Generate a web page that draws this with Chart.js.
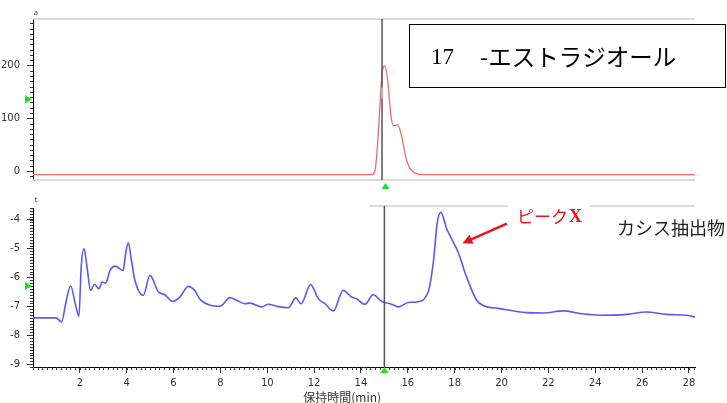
<!DOCTYPE html>
<html>
<head>
<meta charset="utf-8">
<script src="https://cdn.jsdelivr.net/npm/chart.js@4.4.1/dist/chart.umd.min.js"></script>
<style>
    html, body { margin: 0; padding: 0; background: #fff; overflow: hidden; }
    #wrap { position: relative; width: 727px; height: 403px; }
    canvas { position: absolute; left: 0; }
    #topChart { top: 0; }
    #bottomChart { top: 195px; }
</style>
</head>
<body>
<div id="wrap">
    <canvas id="topChart" width="727" height="195"></canvas>
    <canvas id="bottomChart" width="727" height="208"></canvas>
</div>
<script>
const redTime   = [0, 14.45, 14.6, 14.74, 14.84, 14.92, 15.02, 15.14, 15.27, 15.38, 15.47, 15.56, 15.74, 15.91, 16.09, 16.38, 16.59, 28.26];
const redSignal = [-7, -7, 1, 71, 147, 191, 199, 172, 109, 86, 86, 88, 65, 27, 5, -5, -7, -7];

const blueTime = [0, 0.98, 1.22, 1.42, 1.61, 1.8, 1.96, 2.06, 2.18, 2.3,
    2.46, 2.62, 2.82, 2.96, 3.1, 3.29, 3.5, 3.85, 3.95, 4.07,
    4.2, 4.35, 4.71, 4.99, 5.35, 5.63, 5.96, 6.27, 6.63, 6.9,
    7.13, 7.98, 8.41, 8.69, 9.05, 9.26, 9.76, 10.04, 10.4, 10.9,
    11.22, 11.44, 11.85, 12.18, 12.46, 12.82, 13.24, 13.6, 13.81, 14.17,
    14.52, 14.88, 15.24, 15.62, 16.02, 16.38, 16.87, 17.09, 17.26, 17.41,
    17.66, 17.94, 18.15, 18.51, 18.94, 19.22, 19.93, 21.07, 21.78, 22.63,
    23.35, 24.2, 25.34, 26.19, 27.05, 27.9, 28.26];
const blueSignal = [-7.4, -7.4, -7.54, -6.8, -6.3, -6.9, -7.35, -5.6, -5.01, -5.6,
    -6.45, -6.24, -6.39, -6.16, -6.2, -5.76, -5.61, -5.76, -5.2, -4.8,
    -5.4, -6.1, -6.62, -5.93, -6.5, -6.6, -6.83, -6.68, -6.31, -6.45,
    -6.76, -7.0, -6.7, -6.79, -6.91, -6.89, -7.02, -6.93, -7.0, -7.05,
    -6.71, -6.91, -6.25, -6.74, -6.91, -7.16, -6.45, -6.68, -6.74, -6.93,
    -6.6, -6.83, -6.91, -7.02, -6.87, -6.85, -6.5, -5.47, -4.09, -3.75,
    -4.32, -4.78, -5.13, -5.99, -6.79, -6.97, -7.08, -7.22, -7.23, -7.16,
    -7.25, -7.31, -7.28, -7.2, -7.28, -7.31, -7.37];

const xTicks = [2, 4, 6, 8, 10, 12, 14, 16, 18, 20, 22, 24, 26, 28];
const yTicksTop = [0, 100, 200];
const yTicksBottom = [-9, -8, -7, -6, -5, -4];

const titleTop = ['17', '-エストラジオール'];
const peakLabel = ['ピーク', 'X'];
const sampleLabel = 'カシス抽出物';
const xTitle = '保持時間(min)';

const tickFont = { family: 'DejaVu Sans', size: 10 };
const GREEN = '#1ee01e';
const RED = '#e8141e';

function toPoints(xs, ys) {
    return xs.map((x, i) => ({ x: x, y: ys[i] }));
}

// Desenha os ticks menores de um eixo
function minorTicks(ctx, scale, step, len, vertical) {
    ctx.save();
    ctx.strokeStyle = '#333';
    ctx.lineWidth = 1;
    ctx.beginPath();
    const start = Math.ceil(scale.min / step - 1e-6);
    const end = Math.floor(scale.max / step + 1e-6);
    for (let i = start; i <= end; i++) {
        const p = Math.round(scale.getPixelForValue(i * step)) + 0.5;
        if (vertical) {
            ctx.moveTo(scale.right - len, p);
            ctx.lineTo(scale.right, p);
        } else {
            ctx.moveTo(p, scale.top);
            ctx.lineTo(p, scale.top + len);
        }
    }
    ctx.stroke();
    ctx.restore();
}

function triangle(ctx, x, y, dir) {
    ctx.save();
    ctx.fillStyle = GREEN;
    ctx.beginPath();
    if (dir === 'right') {
        ctx.moveTo(x - 7, y - 4);
        ctx.lineTo(x, y);
        ctx.lineTo(x - 7, y + 4);
    } else {
        ctx.moveTo(x - 4, y + 6);
        ctx.lineTo(x, y);
        ctx.lineTo(x + 4, y + 6);
    }
    ctx.closePath();
    ctx.fill();
    ctx.restore();
}

function vline(ctx, x, y1, y2) {
    ctx.save();
    ctx.strokeStyle = '#555';
    ctx.lineWidth = 1.5;
    ctx.beginPath();
    ctx.moveTo(x, y1);
    ctx.lineTo(x, y2);
    ctx.stroke();
    ctx.restore();
}

const topDeco = {
    id: 'topDeco',
    afterDraw(chart) {
        const { ctx, chartArea: a, scales } = chart;
        const x = scales.x, y = scales.y;
        ctx.save();
        // bordas cinza
        ctx.strokeStyle = '#cfcfcf';
        ctx.lineWidth = 1.5;
        ctx.beginPath();
        ctx.moveTo(a.left, a.top); ctx.lineTo(a.right, a.top);
        ctx.moveTo(a.left, a.bottom); ctx.lineTo(a.right, a.bottom);
        ctx.stroke();
        ctx.restore();

        minorTicks(ctx, y, 10, 3, true);

        const xl = x.getPixelForValue(14.9);
        vline(ctx, xl, a.top, a.bottom);
        ctx.save();
        ctx.strokeStyle = '#7fe8f0';
        ctx.lineWidth = 1.5;
        ctx.beginPath();
        ctx.moveTo(xl, y.getPixelForValue(158));
        ctx.lineTo(xl, y.getPixelForValue(137));
        ctx.stroke();
        ctx.restore();

        triangle(ctx, x.getPixelForValue(15.05), a.bottom + 3, 'up');
        triangle(ctx, a.left - 1, y.getPixelForValue(136), 'right');

        ctx.save();
        ctx.fillStyle = '#333';
        ctx.font = '7px DejaVu Sans';
        ctx.textAlign = 'center';
        ctx.textBaseline = 'middle';
        ctx.fillText('a', a.left + 3, a.top - 6);

        // caixa do título
        ctx.fillStyle = '#fff';
        ctx.fillRect(409, 24, 317, 64);
        ctx.strokeStyle = '#000';
        ctx.lineWidth = 1;
        ctx.strokeRect(409.5, 24.5, 316, 63);
        ctx.fillStyle = '#000';
        ctx.textAlign = 'left';
        ctx.font = '23px "Liberation Serif"';
        ctx.fillText(titleTop[0], 431, 58);
        ctx.font = '23.5px "Noto Sans CJK JP"';
        ctx.fillText(titleTop[1], 480, 57);
        ctx.restore();
    }
};

const bottomDeco = {
    id: 'bottomDeco',
    afterDraw(chart) {
        const { ctx, chartArea: a, scales } = chart;
        const x = scales.x, y = scales.y;

        minorTicks(ctx, y, 0.1, 3, true);
        minorTicks(ctx, x, 0.2, 3, false);

        ctx.save();
        ctx.strokeStyle = '#cfcfcf';
        ctx.lineWidth = 1.5;
        ctx.beginPath();
        ctx.moveTo(x.getPixelForValue(14.35), a.top - 2);
        ctx.lineTo(a.right, a.top - 2);
        ctx.stroke();
        ctx.restore();

        const xl = x.getPixelForValue(15);
        vline(ctx, xl, a.top - 2, a.bottom);
        triangle(ctx, xl, a.bottom, 'up');
        triangle(ctx, a.left - 1, y.getPixelForValue(-6.3), 'right');

        ctx.save();
        // rótulo do pico com fundo branco
        ctx.textBaseline = 'middle';
        const lx = x.getPixelForValue(20.66), ly = y.getPixelForValue(-3.9);
        ctx.font = '17px "Noto Sans CJK JP"';
        const w1 = ctx.measureText(peakLabel[0]).width;
        ctx.font = 'bold 18px "Liberation Serif"';
        const w2 = ctx.measureText(peakLabel[1]).width;
        ctx.fillStyle = '#fff';
        ctx.fillRect(lx - 9, ly - 12, w1 + w2 + 18, 24);
        ctx.fillStyle = RED;
        ctx.font = '17px "Noto Sans CJK JP"';
        ctx.fillText(peakLabel[0], lx, ly);
        ctx.font = 'bold 18px "Liberation Serif"';
        ctx.fillText(peakLabel[1], lx + w1 + 1, ly + 1);

        // seta
        const x1 = x.getPixelForValue(20.23), y1 = y.getPixelForValue(-4.14);
        const x2 = x.getPixelForValue(18.33), y2 = y.getPixelForValue(-4.82);
        const ang = Math.atan2(y2 - y1, x2 - x1);
        ctx.strokeStyle = RED;
        ctx.lineWidth = 2.5;
        ctx.beginPath();
        ctx.moveTo(x1, y1);
        ctx.lineTo(x2 - 6 * Math.cos(ang), y2 - 6 * Math.sin(ang));
        ctx.stroke();
        ctx.fillStyle = RED;
        ctx.beginPath();
        ctx.moveTo(x2, y2);
        ctx.lineTo(x2 - 10 * Math.cos(ang) + 5 * Math.sin(ang), y2 - 10 * Math.sin(ang) - 5 * Math.cos(ang));
        ctx.lineTo(x2 - 10 * Math.cos(ang) - 5 * Math.sin(ang), y2 - 10 * Math.sin(ang) + 5 * Math.cos(ang));
        ctx.closePath();
        ctx.fill();

        ctx.fillStyle = '#222';
        ctx.font = '18px "Noto Sans CJK JP"';
        ctx.fillText(sampleLabel, x.getPixelForValue(24.93), y.getPixelForValue(-4.31));

        ctx.fillStyle = '#333';
        ctx.font = '12px "Noto Sans CJK JP"';
        ctx.textAlign = 'center';
        ctx.fillText(xTitle, x.getPixelForValue(13.2), 202);

        ctx.font = '7px DejaVu Sans';
        ctx.fillText('t', a.left + 3, a.top - 8);
        ctx.restore();
    }
};

function yScale(min, max, ticks) {
    return {
        type: 'linear',
        min: min,
        max: max,
        afterFit: (s) => { s.width = 33; },
        afterBuildTicks: (s) => { s.ticks = ticks.map(v => ({ value: v })); },
        ticks: { font: tickFont, color: '#333', padding: 7 },
        grid: { drawOnChartArea: false, tickLength: 6, color: '#333' },
        border: { display: true, color: '#000', width: 1 }
    };
}

new Chart(document.getElementById('topChart'), {
    type: 'line',
    data: {
        datasets: [{
            data: toPoints(redTime, redSignal),
            borderColor: '#ef6b6b',
            borderWidth: 1.3,
            pointRadius: 0,
            cubicInterpolationMode: 'monotone'
        }]
    },
    options: {
        responsive: false,
        animation: false,
        devicePixelRatio: 1,
        layout: { padding: { top: 19, right: 32, bottom: 15, left: 0 } },
        plugins: { legend: { display: false }, tooltip: { enabled: false } },
        scales: {
            x: { type: 'linear', min: 0, max: 28.26, display: false },
            y: yScale(-17, 288, yTicksTop)
        }
    },
    plugins: [topDeco]
});

new Chart(document.getElementById('bottomChart'), {
    type: 'line',
    data: {
        datasets: [{
            data: toPoints(blueTime, blueSignal),
            borderColor: '#5a5af0',
            borderWidth: 1.6,
            pointRadius: 0,
            cubicInterpolationMode: 'monotone'
        }]
    },
    options: {
        responsive: false,
        animation: false,
        devicePixelRatio: 1,
        layout: { padding: { top: 12, right: 32, bottom: 0, left: 0 } },
        plugins: { legend: { display: false }, tooltip: { enabled: false } },
        scales: {
            x: {
                type: 'linear',
                min: 0,
                max: 28.26,
                afterFit: (s) => { s.height = 36; },
                afterBuildTicks: (s) => { s.ticks = xTicks.map(v => ({ value: v })); },
                ticks: { font: tickFont, color: '#333', padding: 4, maxRotation: 0 },
                grid: { drawOnChartArea: false, tickLength: 6, color: '#333' },
                border: { display: true, color: '#000', width: 1 }
            },
            y: yScale(-9.1, -3.6, yTicksBottom)
        }
    },
    plugins: [bottomDeco]
});
</script>
</body>
</html>
